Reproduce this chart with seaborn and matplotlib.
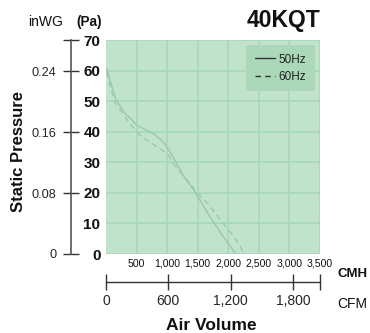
import numpy as np
import pandas as pd
import matplotlib
matplotlib.use("Agg")
import matplotlib.pyplot as plt
from matplotlib import font_manager as fm
import seaborn as sns

# ---- data ----
flow_50 = [15, 77, 158, 295, 512, 785, 938, 1047, 1156, 1292, 1428, 1674, 1893, 2110]
pa_50 = [60.5, 56, 50.8, 46.4, 42, 39.3, 36.7, 33.4, 29.6, 24.7, 21.2, 13.0, 6.4, 0.4]
flow_60 = [15, 70, 150, 272, 376, 484, 592, 747, 883, 1019, 1100, 1210, 1402, 1538, 1674, 1865, 2083, 2192, 2250]
pa_60 = [59.5, 54.5, 49.5, 46, 43, 40.4, 38.2, 36.2, 34.5, 32.4, 29.6, 27, 22.3, 19, 16.3, 11.3, 5.9, 2.6, 0.3]
series = ["50Hz", "60Hz"]
cmh_ticks = [500, 1000, 1500, 2000, 2500, 3000, 3500]
cmh_labels = ["500", "1,000", "1,500", "2,000", "2,500", "3,000", "3,500"]
pa_ticks = [0, 10, 20, 30, 40, 50, 60, 70]
inwg_ticks = [0, 0.08, 0.16, 0.24]
inwg_labels = ["0", "0.08", "0.16", "0.24"]
cfm_ticks = [0, 600, 1200, 1800]
cfm_labels = ["0", "600", "1,200", "1,800"]
title = "40KQT"

df = pd.concat([
    pd.DataFrame({"flow": flow_50, "pa": pa_50, "freq": series[0]}),
    pd.DataFrame({"flow": flow_60, "pa": pa_60, "freq": series[1]}),
])

sns.set_theme(style="white")
plt.rcParams["font.family"] = ["Liberation Sans", "DejaVu Sans"]

installed = {f.name for f in fm.fontManager.ttflist}
if "Liberation Sans Narrow" in installed:
    narrow_family, narrow_size = ["Liberation Sans Narrow"], 9.5
else:
    narrow_family, narrow_size = ["Liberation Sans"], 7.6

W, H = 370, 333
fig = plt.figure(figsize=(W / 100, H / 100), dpi=100)
L, R, T, B = 106, 320, 40, 254
ax = fig.add_axes([L / W, 1 - B / H, (R - L) / W, (B - T) / H])

bg = "#c1e3cc"
grid_c = "#a7d8b8"
curve_c = "#98c9ac"
ax.set_facecolor(bg)

sns.lineplot(data=df, x="flow", y="pa", hue="freq", style="freq",
             palette=[curve_c, curve_c], dashes=[(None, None), (4, 3)],
             linewidth=1.0, sort=False, estimator=None, ax=ax)

ax.set_xlim(0, 3500)
ax.set_ylim(0, 70)
for s in ax.spines.values():
    s.set_visible(False)
ax.set_xticks(cmh_ticks)
ax.set_xticklabels(cmh_labels, family=narrow_family, fontsize=narrow_size)
ax.set_yticks(pa_ticks)
ax.set_yticklabels([str(t) for t in pa_ticks], fontweight="bold", fontsize=11)
ax.tick_params(axis="x", length=0, pad=3.5, colors="#111")
ax.tick_params(axis="y", length=0, pad=4, colors="#111")
ax.grid(True, color=grid_c, linewidth=1.2)
ax.set_xlabel("")
ax.set_ylabel("")

# legend
leg = ax.legend(loc="upper right", bbox_to_anchor=(0.975, 0.975), frameon=True,
                fontsize=8.5, handlelength=1.7, handletextpad=0.35,
                borderpad=0.7, labelspacing=0.45, borderaxespad=0)
leg.get_frame().set_facecolor("#aad8b9")
leg.get_frame().set_edgecolor("none")
leg.get_frame().set_alpha(1)
leg.get_frame().set_boxstyle("square", pad=0)
for ln in leg.get_lines():
    ln.set_color("#333333")
    ln.set_linewidth(1.0)
for t in leg.get_texts():
    t.set_color("#222")

# inWG secondary axis
PA_PER_INWG = 249.09
sec_y = ax.secondary_yaxis(-(L - 71) / (R - L),
                           functions=(lambda p: p / PA_PER_INWG, lambda w: w * PA_PER_INWG))
sec_y.set_yticks(inwg_ticks)
sec_y.set_yticklabels(inwg_labels, fontsize=9.2)
sec_y.set_yticks([70 / PA_PER_INWG], minor=True)
sec_y.tick_params(which="both", direction="inout", length=12, width=1.0, color="#333", pad=4.5)
sec_y.spines["left"].set_color("#555")
sec_y.spines["left"].set_linewidth(1.2)

# CFM secondary axis
CMH_PER_CFM = 1.699
sec_x = ax.secondary_xaxis(-(282 - B) / (B - T),
                           functions=(lambda c: c / CMH_PER_CFM, lambda f: f * CMH_PER_CFM))
sec_x.set_xticks(cfm_ticks)
sec_x.set_xticklabels(cfm_labels, fontsize=10)
sec_x.set_xticks([3500 / CMH_PER_CFM], minor=True)
sec_x.tick_params(which="both", direction="inout", length=11, width=1.0, color="#333", pad=3)
sec_x.spines["bottom"].set_color("#333")
sec_x.spines["bottom"].set_linewidth(1.0)

# texts
fig.text(320 / W, 1 - 26.7 / H, title, ha="right", va="baseline", fontsize=16.5, fontweight="bold", color="#111")
fig.text(28 / W, 1 - 26 / H, "inWG", ha="left", va="baseline", fontsize=10, color="#111")
fig.text(76 / W, 1 - 26 / H, "(Pa)", ha="left", va="baseline", fontsize=9.8, fontweight="bold", color="#111")
fig.text(19 / W, 1 - 152 / H, "Static Pressure", rotation=90, ha="center", va="center",
         fontsize=12, fontweight="bold", color="#111")
fig.text(337 / W, 1 - 276.7 / H, "CMH", ha="left", va="baseline", fontsize=9.5, fontweight="bold", color="#111")
fig.text(337 / W, 1 - 308.3 / H, "CFM", ha="left", va="baseline", fontsize=10, color="#111")
fig.text(211 / W, 1 - 330 / H, "Air Volume", ha="center", va="baseline",
         fontsize=12.5, fontweight="bold", color="#111")

fig.savefig("out.png", dpi=100, facecolor="white")
